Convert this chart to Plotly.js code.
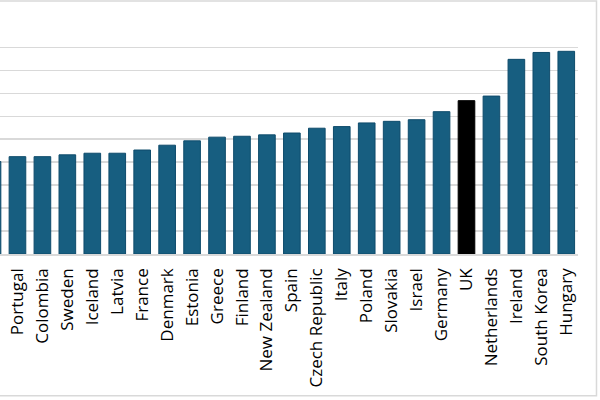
<!DOCTYPE html>
<html>
<head>
<meta charset="utf-8">
<script src="https://cdn.plot.ly/plotly-3.0.1.min.js"></script>
<style>
  body { margin: 0; background: #fff; }
  #chart { width: 600px; height: 400px; }
</style>
</head>
<body>
<div id="chart"></div>
<script>
// countries, sorted low to high (first one is cut off at the left edge in the source)
var countries = ['Chile', 'Portugal', 'Colombia', 'Sweden', 'Iceland', 'Latvia', 'France', 'Denmark',
  'Estonia', 'Greece', 'Finland', 'New Zealand', 'Spain', 'Czech Republic', 'Italy', 'Poland',
  'Slovakia', 'Israel', 'Germany', 'UK', 'Netherlands', 'Ireland', 'South Korea', 'Hungary'];

// values in gridline units (y labels are cropped out of the source)
var values = [4.03, 4.24, 4.24, 4.32, 4.39, 4.39, 4.53, 4.74,
  4.93, 5.09, 5.13, 5.19, 5.27, 5.48, 5.55, 5.71,
  5.78, 5.85, 6.20, 6.68, 6.88, 8.48, 8.78, 8.83];

var highlight = 'UK';

var barColors = countries.map(function (c) { return c === highlight ? '#000000' : '#175e80'; });
var lineColors = countries.map(function (c) { return c === highlight ? '#000000' : '#0e4b6b'; });

var trace = {
  x: countries,
  y: values,
  type: 'bar',
  marker: { color: barColors, line: { color: lineColors, width: 1 } },
  hoverinfo: 'x+y'
};

var layout = {
  width: 600,
  height: 400,
  margin: { l: 0, r: 21.5, t: 24, b: 145.5 },
  paper_bgcolor: '#fff',
  plot_bgcolor: '#fff',
  bargap: 0.333,
  showlegend: false,
  font: { family: 'Open Sans, sans-serif', color: '#000' },
  xaxis: {
    type: 'category',
    range: [0.30, 23.47],
    tickangle: -90,
    tickfont: { size: 17, color: '#000' },
    ticklabelstandoff: 6,
    showline: true,
    linecolor: '#d9d9d9',
    linewidth: 1.5,
    ticks: '',
    showgrid: false
  },
  yaxis: {
    range: [0, 10.02],
    dtick: 1,
    showticklabels: false,
    gridcolor: '#d9d9d9',
    gridwidth: 1.5,
    zeroline: false,
    ticks: ''
  },
  shapes: [{
    type: 'rect', xref: 'paper', yref: 'paper',
    x0: -0.02, x1: 1.032, y0: -0.616, y1: 1.0998,
    line: { color: '#d9d9d9', width: 1.5 }
  }]
};

Plotly.newPlot('chart', [trace], layout, { displayModeBar: false, staticPlot: true });
</script>
</body>
</html>
